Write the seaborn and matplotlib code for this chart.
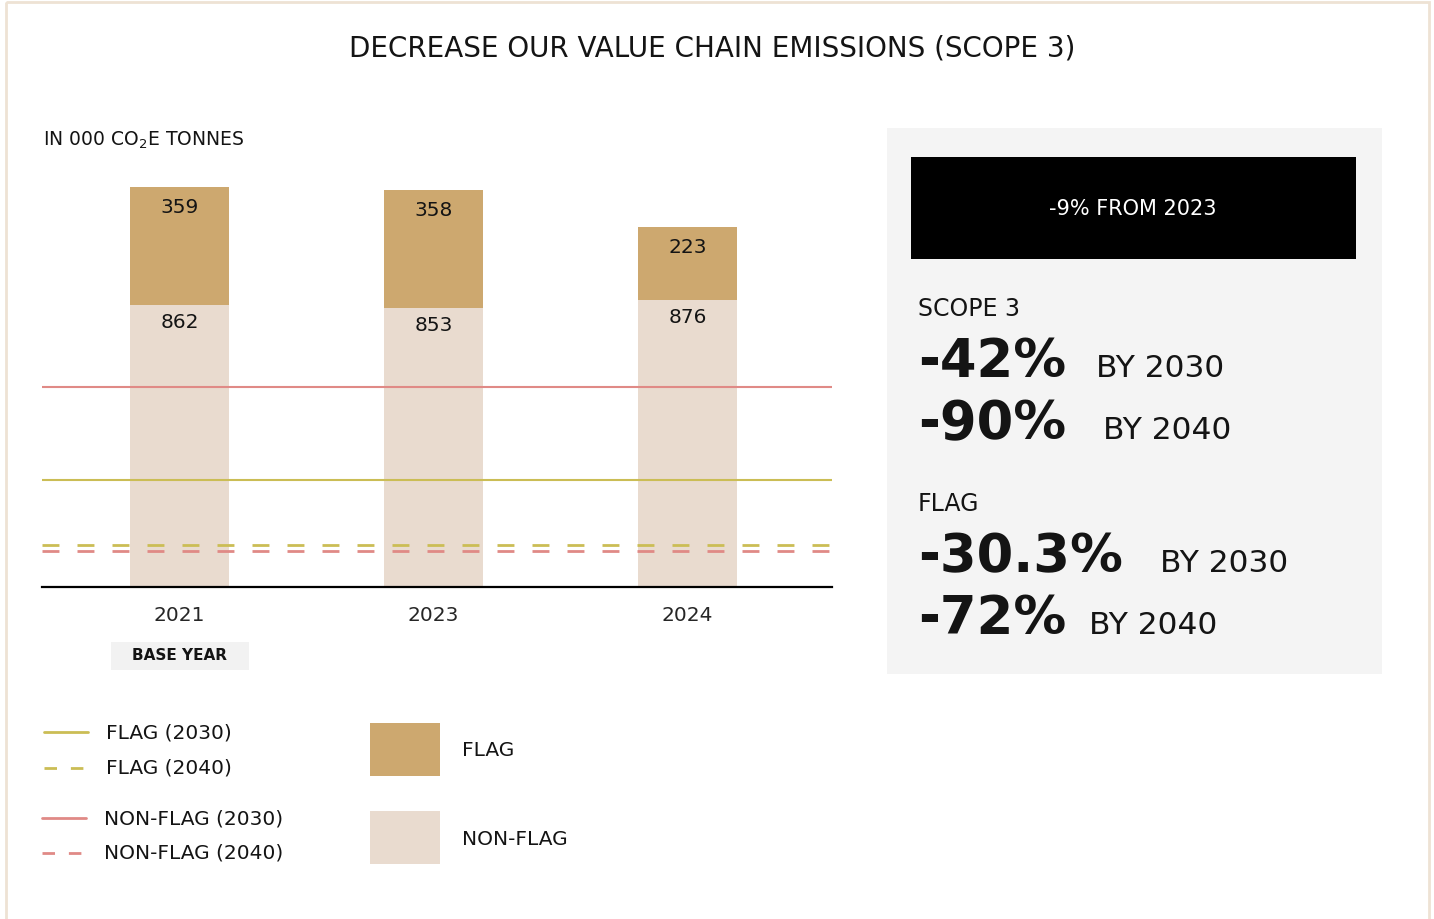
import matplotlib
matplotlib.use("Agg")
import matplotlib.pyplot as plt
import seaborn as sns
import pandas as pd
from matplotlib.patches import Rectangle
from matplotlib.lines import Line2D

# datos
years = ["2021", "2023", "2024"]
flag = [359, 358, 223]
non_flag = [862, 853, 876]
# niveles objetivo
non_flag_2030 = 611
flag_2030 = 327
flag_2040 = 128
non_flag_2040 = 110

c_flag = "#cda86f"
c_nonflag = "#e9dbcf"
c_line_flag = "#cbbd55"
c_line_nonflag = "#e08a86"

df = pd.DataFrame({"year": years, "flag": flag, "non_flag": non_flag})
df["total"] = df["flag"] + df["non_flag"]

sns.set_theme(style="white")
plt.rcParams["font.family"] = ["DejaVu Sans"]
plt.rcParams["text.color"] = "#141414"

W, H = 1434, 920
fig = plt.figure(figsize=(W / 100, H / 100), dpi=100)

# capa de fondo en píxeles
bg = fig.add_axes([0, 0, 1, 1])
bg.set_xlim(0, W)
bg.set_ylim(H, 0)
bg.axis("off")
bg.add_patch(Rectangle((6, 3), 1423, 960, fc="none", ec="#eee2d4", lw=2))
bg.add_patch(Rectangle((887, 129), 495, 546, fc="#f4f4f4", ec="none"))
bg.add_patch(Rectangle((911, 158), 445, 102, fc="black", ec="none"))
bg.add_patch(Rectangle((111, 643), 138, 28, fc="#f2f2f2", ec="none"))

bg.text(712, 49, "DECREASE OUR VALUE CHAIN EMISSIONS (SCOPE 3)", ha="center", va="center", fontsize=20)
bg.text(43, 140, "IN 000 CO$_2$E TONNES", ha="left", va="center", fontsize=13.5)
bg.text(180, 656, "BASE YEAR", ha="center", va="center", fontsize=11, fontweight="bold")

# panel derecho
bg.text(1133, 209, "-9% FROM 2023", ha="center", va="center", fontsize=15, color="white")
bg.text(918, 309, "SCOPE 3", ha="left", va="center", fontsize=17)
bg.text(918, 362, "-42%", ha="left", va="center", fontsize=38, fontweight="bold")
bg.text(1096, 369, "BY 2030", ha="left", va="center", fontsize=22.5)
bg.text(918, 424, "-90%", ha="left", va="center", fontsize=38, fontweight="bold")
bg.text(1103, 431, "BY 2040", ha="left", va="center", fontsize=22.5)
bg.text(918, 504, "FLAG", ha="left", va="center", fontsize=17)
bg.text(918, 557, "-30.3%", ha="left", va="center", fontsize=38, fontweight="bold")
bg.text(1160, 564, "BY 2030", ha="left", va="center", fontsize=22.5)
bg.text(918, 619, "-72%", ha="left", va="center", fontsize=38, fontweight="bold")
bg.text(1089, 626, "BY 2040", ha="left", va="center", fontsize=22.5)

# leyenda
bg.add_line(Line2D([44, 88], [733, 733], color=c_line_flag, lw=2))
bg.add_line(Line2D([44, 88], [769, 769], color=c_line_flag, lw=2, ls=(0, (4.5, 5))))
bg.add_line(Line2D([42, 86], [819, 819], color=c_line_nonflag, lw=2))
bg.add_line(Line2D([42, 86], [854, 854], color=c_line_nonflag, lw=2, ls=(0, (4.5, 5))))
bg.text(106, 733, "FLAG (2030)", va="center", fontsize=14.5)
bg.text(106, 768, "FLAG (2040)", va="center", fontsize=14.5)
bg.text(104, 819, "NON-FLAG (2030)", va="center", fontsize=14.5)
bg.text(104, 853, "NON-FLAG (2040)", va="center", fontsize=14.5)
bg.add_patch(Rectangle((370, 724), 70, 53, fc=c_flag, ec="none"))
bg.add_patch(Rectangle((370, 812), 70, 53, fc=c_nonflag, ec="none"))
bg.text(462, 751, "FLAG", va="center", fontsize=14.5)
bg.text(462, 840, "NON-FLAG", va="center", fontsize=14.5)

# gráfico de barras apiladas
ax = fig.add_axes([42 / W, 1 - 588 / H, 790 / W, (588 - 175) / H])
ax.set_facecolor("none")
sns.barplot(data=df, x="year", y="total", color=c_flag, saturation=1, width=0.39, linewidth=0, ax=ax)
sns.barplot(data=df, x="year", y="non_flag", color=c_nonflag, saturation=1, width=0.39, linewidth=0, ax=ax)

ax.axhline(non_flag_2030, color=c_line_nonflag, lw=1.5, zorder=3)
ax.axhline(flag_2030, color=c_line_flag, lw=1.5, zorder=3)
ax.axhline(flag_2040, color=c_line_flag, lw=2, ls=(0, (6.1, 6.5)), zorder=3)
ax.axhline(non_flag_2040, color=c_line_nonflag, lw=2, ls=(0, (6.1, 6.5)), zorder=3)

for i, row in df.iterrows():
    ax.annotate(str(row["flag"]), (i, row["total"]), xytext=(0, -14), textcoords="offset points",
                ha="center", va="center", fontsize=14.5)
    ax.annotate(str(row["non_flag"]), (i, row["non_flag"]), xytext=(0, -12), textcoords="offset points",
                ha="center", va="center", fontsize=14.5)

ax.set_xlim(-0.541, 2.569)
ax.set_ylim(0, 413 / 0.3275)
ax.set_xlabel("")
ax.set_ylabel("")
ax.set_yticks([])
ax.tick_params(axis="x", length=0, pad=13, labelsize=14.5)
for s in ["top", "right", "left"]:
    ax.spines[s].set_visible(False)
ax.spines["bottom"].set_color("black")
ax.spines["bottom"].set_linewidth(1.6)

fig.savefig("out.png", dpi=100)
